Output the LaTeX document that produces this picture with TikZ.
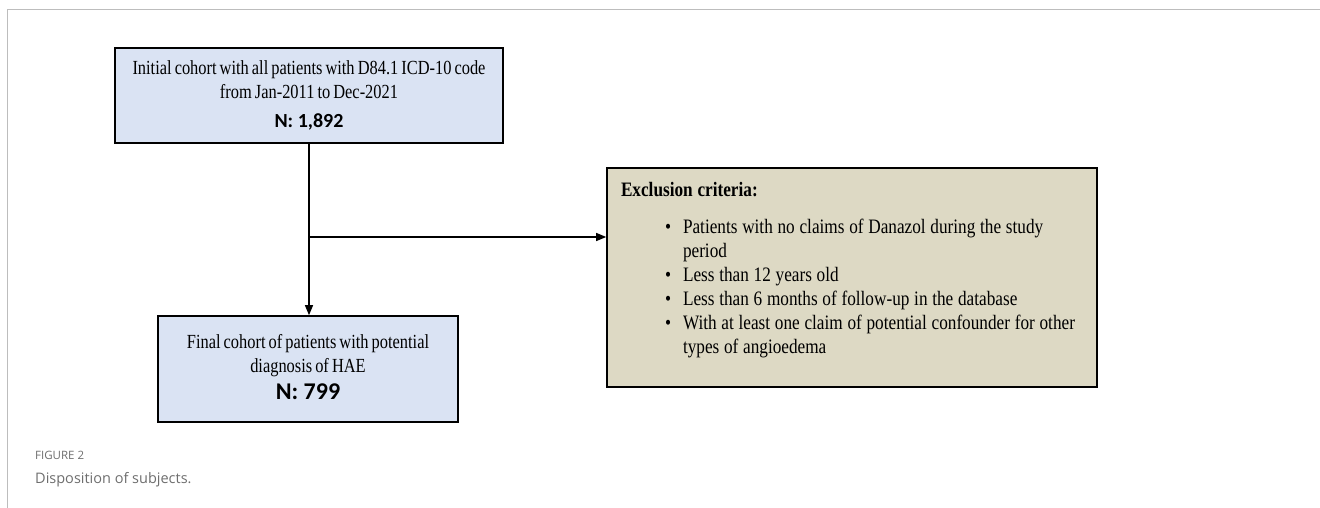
\documentclass[tikz,border=0pt]{standalone}
\usepackage{fontspec}
\setmainfont{Liberation Serif}[FakeStretch=0.82,WordSpace=0.75]
\newfontfamily\exfont{Liberation Serif}[FakeStretch=0.84,WordSpace=1.1]
\newfontfamily\numfont{Carlito}
\newfontfamily\capfont{Open Sans}
\usetikzlibrary{arrows.meta}
\definecolor{bluefill}{HTML}{DAE3F3}
\definecolor{tanfill}{HTML}{DDD9C4}
\definecolor{framegray}{HTML}{BDBDBD}
\definecolor{capgray}{HTML}{6E6E6E}
\newcommand{\exbullet}[1]{\hspace*{44pt}\makebox[18pt][l]{\textbullet}#1}
\begin{document}
\begin{tikzpicture}[x=1pt,y=-1pt,
  box/.style={draw=black, line width=1.6pt, inner sep=0pt, align=center,
    font=\fontsize{20}{24}\selectfont},
  conn/.style={line width=1.3pt, -{Triangle[length=10pt,width=8pt]}},
  capt/.style={anchor=base west, inner sep=0pt, text=capgray}]
\useasboundingbox (0,0) rectangle (1320,508);
\draw[framegray, line width=1pt] (7,508) -- (7,10) -- (1320,10);

\node[box, fill=bluefill, minimum width=388pt, minimum height=95pt] (init) at (309,95.5)
  {Initial cohort with all patients with D84.1 ICD-10 code\\ from Jan-2011 to Dec-2021\\[5pt]
   {\numfont\bfseries\fontsize{20}{24}\selectfont N: 1,892}\rule[-3pt]{0pt}{1pt}};

\node[box, fill=bluefill, minimum width=300pt, minimum height=106pt] (final) at (308,369)
  {Final cohort of patients with potential\\ diagnosis of HAE\\[3pt]
   {\numfont\bfseries\fontsize{24}{28}\selectfont N: 799}\rule[-5pt]{0pt}{1pt}};

\node[box, fill=tanfill, minimum width=490pt, minimum height=219pt] (ex) at (852,277.5)
  {\parbox{462pt}{\exfont\fontsize{20.5}{24}\selectfont
   {\bfseries Exclusion criteria:}\\[13pt]
   \exbullet{Patients with no claims of Danazol during the study}\\
   \hspace*{62pt}period\\
   \exbullet{Less than 12 years old}\\
   \exbullet{Less than 6 months of follow-up in the database}\\
   \exbullet{With at least one claim of potential confounder for other}\\
   \hspace*{62pt}types of angioedema\rule[-20pt]{0pt}{1pt}}};

\coordinate (br) at (309,237);
\draw[conn] (init.south) -- (init.south |- final.north);
\draw[conn] (br) -- (br -| ex.west);

\node[capt, font=\capfont\fontsize{11.5}{14}\selectfont] (fig) at (35,459) {FIGURE 2};
\node[capt, font=\capfont\fontsize{14.5}{18}\selectfont] (disp) at (35,483) {Disposition of subjects.};
\end{tikzpicture}
\end{document}
